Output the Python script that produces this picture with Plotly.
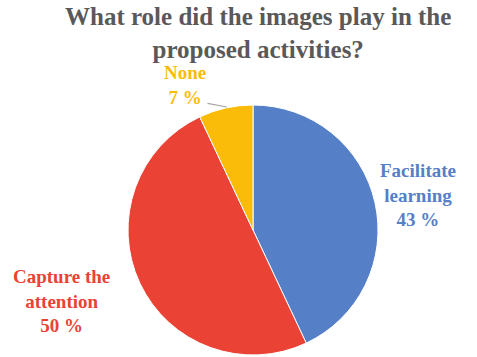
import plotly.graph_objects as go

categories = ["Facilitate<br>learning", "Capture the<br>attention", "None"]
values = [43, 50, 7]
colors = ["#5580C8", "#EA4335", "#FBBC09"]
title = "What role did the images play in the<br>proposed activities?"

W, H = 477, 357
SERIF = "Liberation Serif"

fig = go.Figure(go.Pie(
    labels=categories, values=values, sort=False, direction="clockwise",
    rotation=0, marker=dict(colors=colors, line=dict(color="white", width=1)),
    textinfo="none", domain=dict(x=[128/W, 378/W], y=[2/H, 252/H]),
))

fig.update_layout(
    width=W, height=H, margin=dict(l=0, r=0, t=0, b=0),
    font=dict(family=SERIF), showlegend=False,
)

fig.add_annotation(
    x=258/W, y=1 - 33/H, xref="paper", yref="paper", showarrow=False,
    text="<b>" + title + "</b>", align="center", xanchor="center", yanchor="middle",
    font=dict(family=SERIF, size=25, color="#595959"),
)

label_pos = [(418, 195), (61, 301), (185, 85)]
for cat, v, c, (x, y) in zip(categories, values, colors, label_pos):
    fig.add_annotation(
        x=x/W, y=1 - y/H, xref="paper", yref="paper", showarrow=False,
        text="<b>" + cat + "<br>" + str(v) + " %</b>",
        font=dict(family=SERIF, size=19, color=c), align="center",
        xanchor="center", yanchor="middle",
    )

# leader line for the small slice
fig.add_annotation(
    x=227/W, y=1 - 107/H, xref="paper", yref="paper", text="",
    showarrow=True, arrowhead=0, arrowwidth=1.2, arrowcolor="#A6A6A6",
    ax=-21, ay=-4,
)

fig.write_html("out.html")
